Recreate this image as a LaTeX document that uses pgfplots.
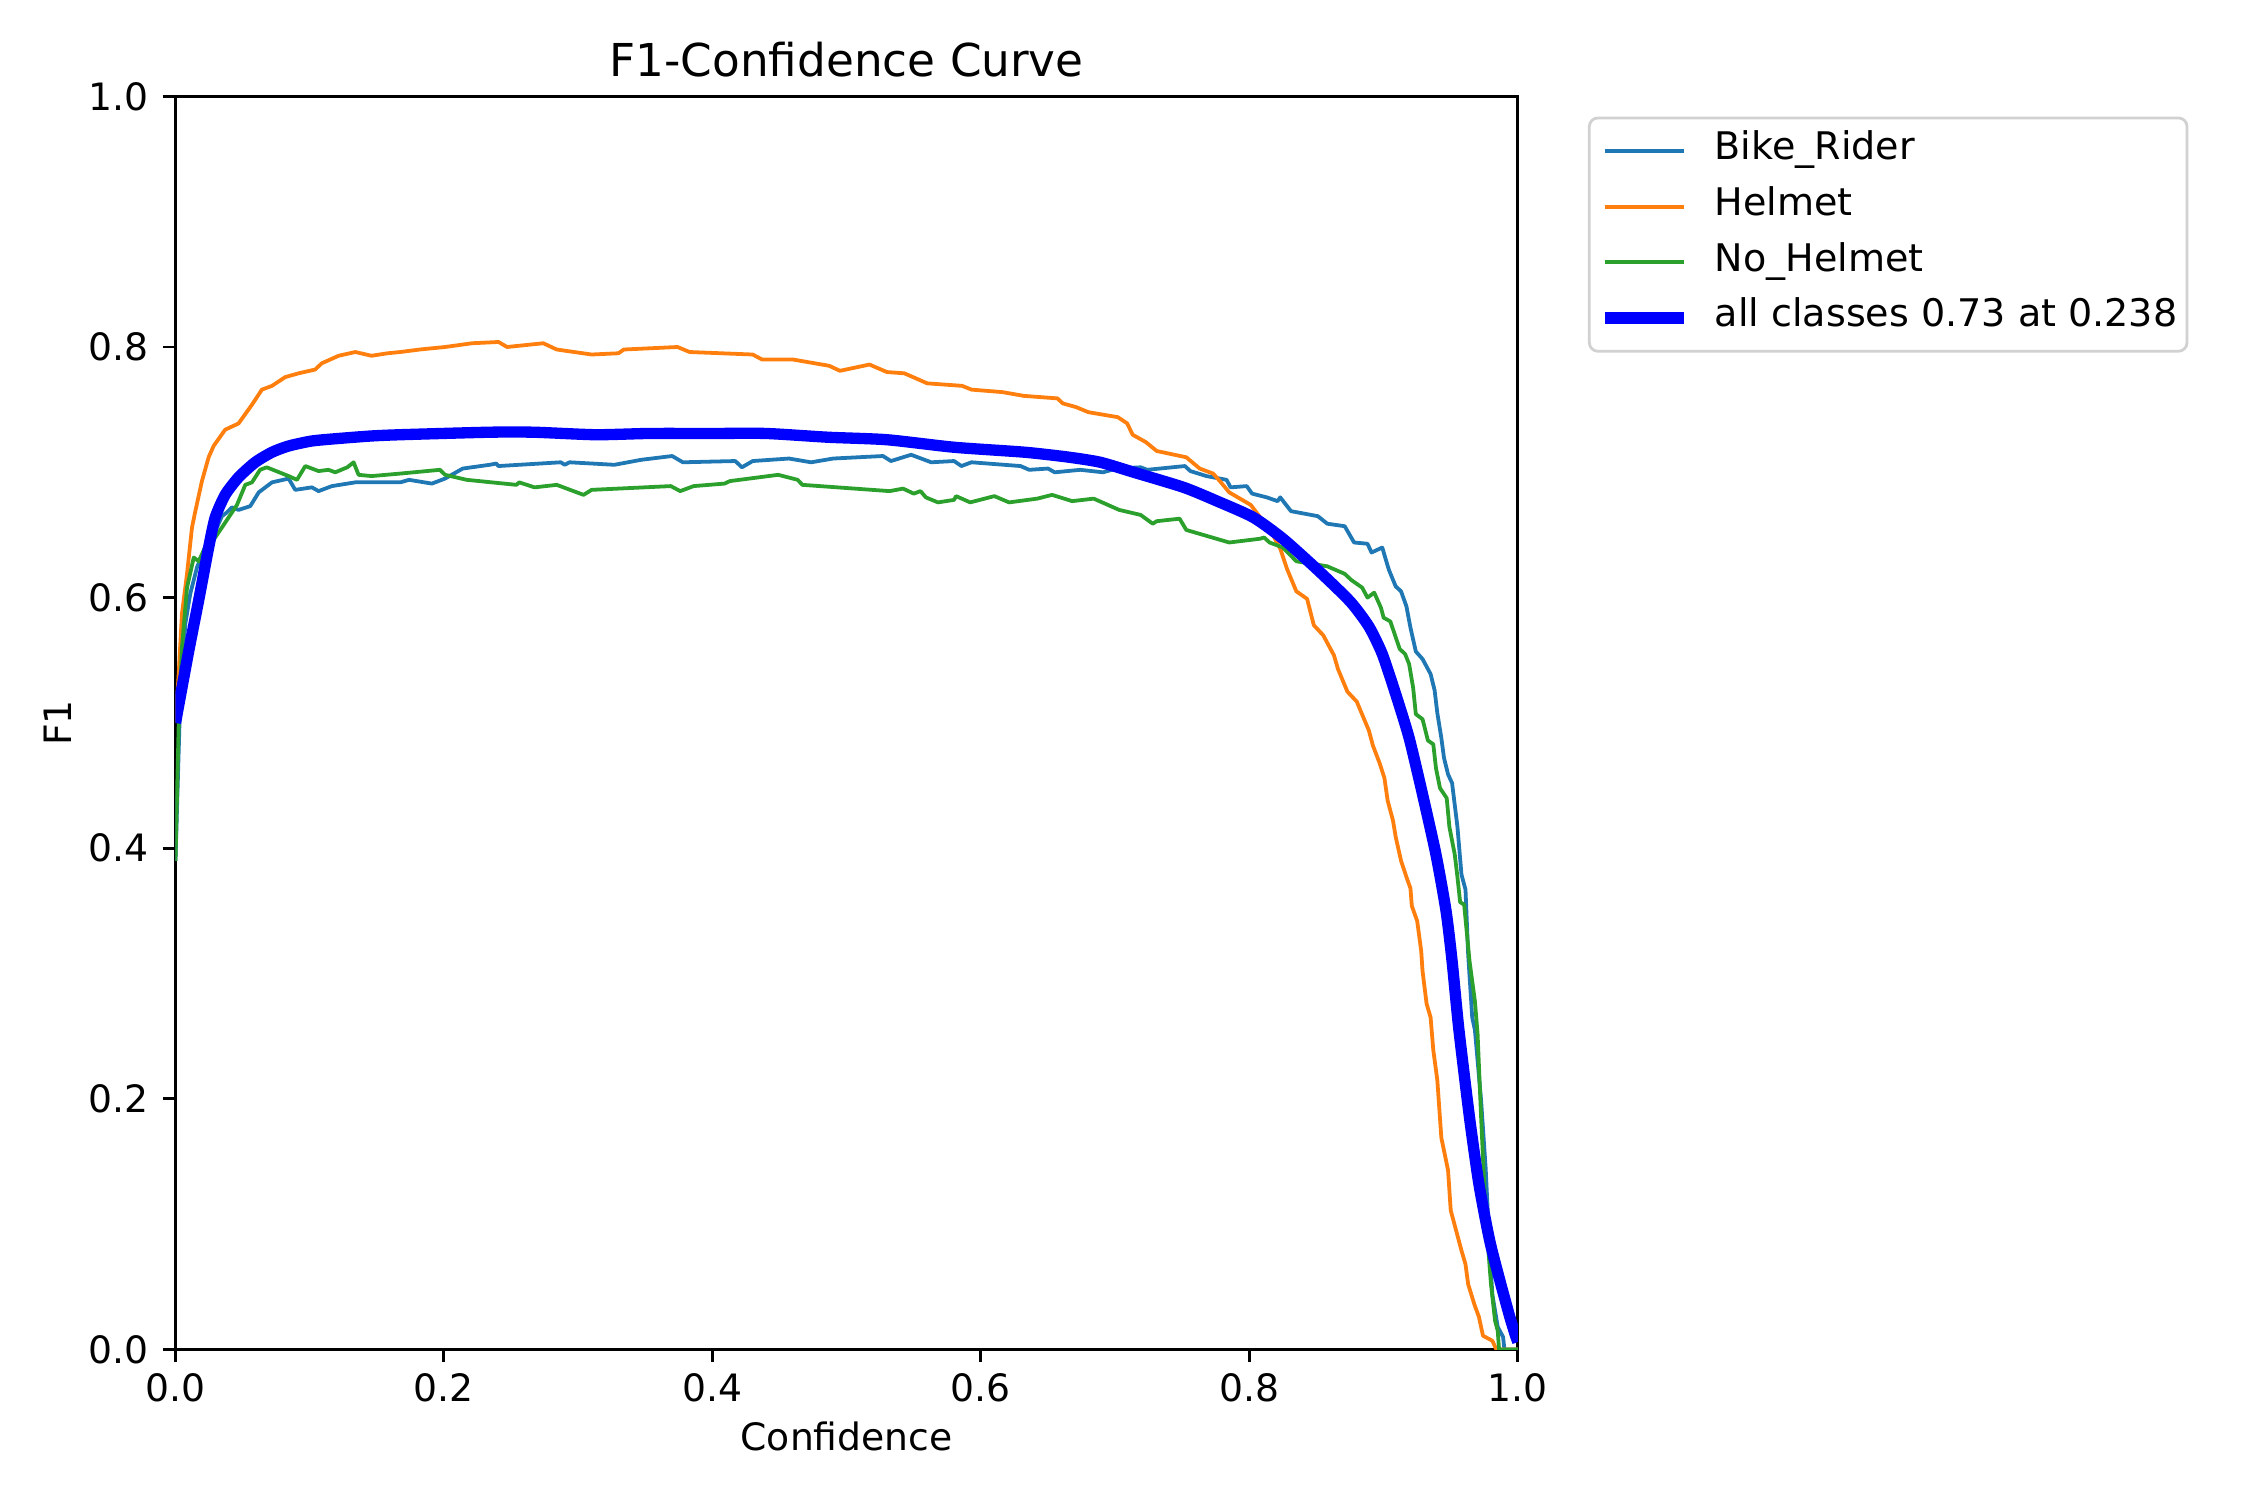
\documentclass[border=0pt]{standalone}
\usepackage{fontspec}
\setmainfont{DejaVu Sans}
\usepackage{pgfplots}
\pgfplotsset{compat=1.18}
\definecolor{tabblue}{HTML}{1F77B4}
\definecolor{taborange}{HTML}{FF7F0E}
\definecolor{tabgreen}{HTML}{2CA02C}
\definecolor{allblue}{HTML}{0000FF}
\begin{document}
\begin{tikzpicture}
\useasboundingbox (-50.54bp,-43.34bp) rectangle (597.46bp,388.66bp);
\begin{axis}[
  at={(0,0)}, anchor=south west,
  scale only axis, width=386.6bp, height=360.9bp,
  xmin=0, xmax=1, ymin=0, ymax=1,
  xtick={0,0.2,0.4,0.6,0.8,1}, ytick={0,0.2,0.4,0.6,0.8,1},
  /pgf/number format/fixed, /pgf/number format/fixed zerofill, /pgf/number format/precision=1, /pgf/number format/assume math mode=true,
  tick align=outside, tick pos=left,
  major tick length=3.6bp,
  every tick/.style={black, line width=0.85bp},
  axis line style={line width=0.85bp},
  tick label style={font=\fontsize{10.9}{13}\selectfont, inner sep=0pt},
  xticklabel style={anchor=north, yshift=-3.2bp},
  yticklabel style={anchor=east, xshift=-3.9bp},
  label style={font=\fontsize{10.9}{13}\selectfont},
  title={F1-Confidence Curve},
  title style={font=\fontsize{13.1}{15}\selectfont, at={(axis description cs:0.5,1)}, anchor=base, yshift=-0.3bp, inner sep=0pt},
  xlabel={Confidence},
  xlabel style={at={(axis description cs:0.5,-0.0694)}, anchor=center},
  ylabel={F1},
  ylabel style={at={(axis description cs:-0.0879,0.5)}, anchor=center},
  legend cell align=left,
  legend image code/.code={\draw[#1] (0bp,0bp) -- (22.8bp,0bp);},
  legend style={at={(axis description cs:1.0522,0.9839)}, anchor=north west,
    draw=black!18, line width=0.8bp, rounded corners=2.5bp, fill=white,
    inner xsep=2.8bp, inner ysep=4.6bp, row sep=6bp,
    font=\fontsize{11}{13}\selectfont,
    nodes={inner sep=0pt, text height=7.5bp, text depth=2.5bp},
    /tikz/every odd column/.append style={column sep=7.3bp},
    /tikz/every even column/.append style={nodes={inner xsep=0pt}}},
  every axis plot/.append style={line join=round},
]
\addplot[tabblue, line width=1.09bp] coordinates {
(0,0.39) (0.003,0.50) (0.0036,0.512) (0.0073,0.579) (0.011,0.603) (0.016,0.624) (0.022,0.640) (0.0296,0.653) (0.0346,0.665) (0.0383,0.668) (0.042,0.672) (0.047,0.670) (0.0557,0.673) (0.062,0.684) (0.0719,0.692) (0.0843,0.695) (0.0892,0.686) (0.1016,0.688) (0.1066,0.685) (0.1165,0.689) (0.134,0.692) (0.146,0.692) (0.1675,0.692) (0.174,0.694) (0.191,0.691) (0.2008,0.695) (0.214,0.703) (0.234,0.706) (0.239,0.707) (0.2405,0.705) (0.287,0.708) (0.290,0.706) (0.2935,0.708) (0.327,0.706) (0.347,0.710) (0.370,0.713) (0.378,0.708) (0.417,0.709) (0.422,0.704) (0.430,0.709) (0.457,0.711) (0.4735,0.708) (0.490,0.711) (0.527,0.713) (0.533,0.709) (0.548,0.714) (0.563,0.708) (0.580,0.709) (0.5855,0.705) (0.593,0.708) (0.6295,0.705) (0.636,0.702) (0.650,0.703) (0.655,0.700) (0.674,0.702) (0.691,0.700) (0.701,0.703) (0.719,0.704) (0.724,0.702) (0.752,0.705) (0.756,0.701) (0.768,0.697) (0.783,0.694) (0.786,0.688) (0.798,0.689) (0.802,0.683) (0.813,0.680) (0.821,0.677) (0.823,0.680) (0.831,0.669) (0.851,0.665) (0.858,0.659) (0.871,0.657) (0.878,0.644) (0.888,0.643) (0.891,0.636) (0.899,0.640) (0.902,0.629) (0.904,0.622) (0.909,0.609) (0.913,0.605) (0.917,0.593) (0.920,0.576) (0.924,0.557) (0.929,0.551) (0.935,0.539) (0.938,0.526) (0.940,0.508) (0.943,0.488) (0.945,0.472) (0.948,0.459) (0.951,0.452) (0.955,0.417) (0.958,0.379) (0.961,0.367) (0.963,0.315) (0.966,0.265) (0.968,0.255) (0.9726,0.199) (0.976,0.145) (0.979,0.079) (0.981,0.044) (0.985,0.018) (0.989,0.010) (0.990,0) (1.0,0)
};
\addlegendentry{Bike\_Rider}
\addplot[taborange, line width=1.09bp] coordinates {
(0,0.50) (0.0024,0.539) (0.0048,0.587) (0.0086,0.619) (0.0123,0.656) (0.0148,0.669) (0.0197,0.693) (0.0247,0.712) (0.0284,0.721) (0.037,0.734) (0.047,0.739) (0.057,0.754) (0.0644,0.766) (0.0719,0.769) (0.0818,0.776) (0.0917,0.779) (0.104,0.782) (0.109,0.787) (0.1215,0.793) (0.134,0.796) (0.146,0.793) (0.158,0.795) (0.1675,0.796) (0.182,0.798) (0.2008,0.800) (0.221,0.803) (0.2407,0.804) (0.247,0.800) (0.274,0.803) (0.284,0.798) (0.310,0.794) (0.330,0.795) (0.334,0.798) (0.374,0.800) (0.383,0.796) (0.430,0.794) (0.437,0.790) (0.460,0.790) (0.487,0.785) (0.495,0.781) (0.517,0.786) (0.530,0.780) (0.543,0.779) (0.560,0.771) (0.586,0.769) (0.593,0.766) (0.616,0.764) (0.632,0.761) (0.657,0.759) (0.661,0.755) (0.671,0.752) (0.680,0.748) (0.702,0.744) (0.709,0.739) (0.713,0.730) (0.723,0.724) (0.731,0.717) (0.753,0.712) (0.763,0.703) (0.773,0.699) (0.778,0.693) (0.785,0.684) (0.801,0.674) (0.816,0.653) (0.823,0.639) (0.828,0.623) (0.835,0.605) (0.843,0.599) (0.848,0.578) (0.855,0.570) (0.863,0.554) (0.866,0.543) (0.873,0.525) (0.880,0.517) (0.889,0.494) (0.892,0.482) (0.897,0.468) (0.9006,0.456) (0.903,0.438) (0.907,0.422) (0.909,0.409) (0.913,0.390) (0.917,0.377) (0.920,0.368) (0.921,0.354) (0.925,0.342) (0.928,0.318) (0.929,0.302) (0.932,0.276) (0.935,0.265) (0.937,0.239) (0.940,0.215) (0.943,0.169) (0.948,0.143) (0.950,0.111) (0.954,0.095) (0.958,0.079) (0.961,0.068) (0.963,0.052) (0.9676,0.036) (0.971,0.026) (0.974,0.011) (0.981,0.007) (0.984,0.0) (1.0,0)
};
\addlegendentry{Helmet}
\addplot[tabgreen, line width=1.09bp] coordinates {
(0,0.39) (0.0024,0.499) (0.0048,0.560) (0.0086,0.608) (0.0136,0.632) (0.0173,0.629) (0.022,0.640) (0.0296,0.648) (0.0346,0.656) (0.0396,0.664) (0.0458,0.674) (0.052,0.690) (0.057,0.692) (0.063,0.702) (0.068,0.704) (0.0843,0.697) (0.0905,0.694) (0.0967,0.705) (0.1066,0.701) (0.114,0.702) (0.119,0.700) (0.128,0.704) (0.1327,0.708) (0.1364,0.698) (0.146,0.697) (0.1675,0.699) (0.197,0.702) (0.2008,0.698) (0.217,0.694) (0.254,0.690) (0.256,0.692) (0.2675,0.688) (0.284,0.690) (0.304,0.682) (0.310,0.686) (0.369,0.689) (0.376,0.685) (0.386,0.689) (0.409,0.691) (0.413,0.693) (0.449,0.698) (0.4635,0.694) (0.467,0.690) (0.532,0.685) (0.542,0.687) (0.550,0.683) (0.555,0.685) (0.559,0.680) (0.568,0.676) (0.580,0.678) (0.5815,0.681) (0.592,0.676) (0.610,0.681) (0.621,0.676) (0.642,0.679) (0.653,0.682) (0.668,0.677) (0.684,0.679) (0.703,0.670) (0.719,0.666) (0.728,0.659) (0.731,0.661) (0.748,0.663) (0.753,0.654) (0.785,0.644) (0.808,0.647) (0.811,0.648) (0.815,0.644) (0.825,0.640) (0.835,0.629) (0.858,0.625) (0.871,0.619) (0.876,0.614) (0.884,0.608) (0.888,0.600) (0.893,0.604) (0.898,0.592) (0.900,0.584) (0.905,0.581) (0.912,0.559) (0.916,0.555) (0.919,0.547) (0.922,0.528) (0.924,0.507) (0.929,0.503) (0.933,0.486) (0.937,0.483) (0.939,0.464) (0.942,0.448) (0.947,0.440) (0.949,0.417) (0.953,0.395) (0.955,0.377) (0.957,0.357) (0.960,0.355) (0.964,0.310) (0.968,0.278) (0.970,0.252) (0.9726,0.186) (0.976,0.107) (0.980,0.052) (0.983,0.023) (0.985,0.015) (0.986,0) (1.0,0)
};
\addlegendentry{No\_Helmet}
\addplot[allblue, line width=3.26bp, smooth, tension=0.4] coordinates {
(0,0.50) (0.0098,0.557) (0.0173,0.598) (0.0247,0.640) (0.0296,0.664) (0.037,0.682) (0.047,0.696) (0.0594,0.708) (0.0719,0.716) (0.0843,0.721) (0.1016,0.725) (0.1215,0.727) (0.146,0.729) (0.1675,0.730) (0.2338,0.732) (0.267,0.732) (0.313,0.730) (0.353,0.731) (0.400,0.731) (0.440,0.731) (0.486,0.728) (0.530,0.726) (0.580,0.720) (0.633,0.716) (0.666,0.712) (0.689,0.708) (0.714,0.700) (0.751,0.688) (0.776,0.677) (0.803,0.664) (0.825,0.647) (0.850,0.623) (0.875,0.597) (0.889,0.577) (0.899,0.555) (0.909,0.523) (0.919,0.488) (0.929,0.443) (0.939,0.395) (0.9465,0.350) (0.951,0.310) (0.956,0.256) (0.964,0.185) (0.971,0.132) (0.979,0.087) (0.9866,0.055) (0.994,0.026) (0.998,0.012) (1.0,0.006)
};
\addlegendentry{all classes 0.73 at 0.238}
\end{axis}
\end{tikzpicture}
\end{document}
